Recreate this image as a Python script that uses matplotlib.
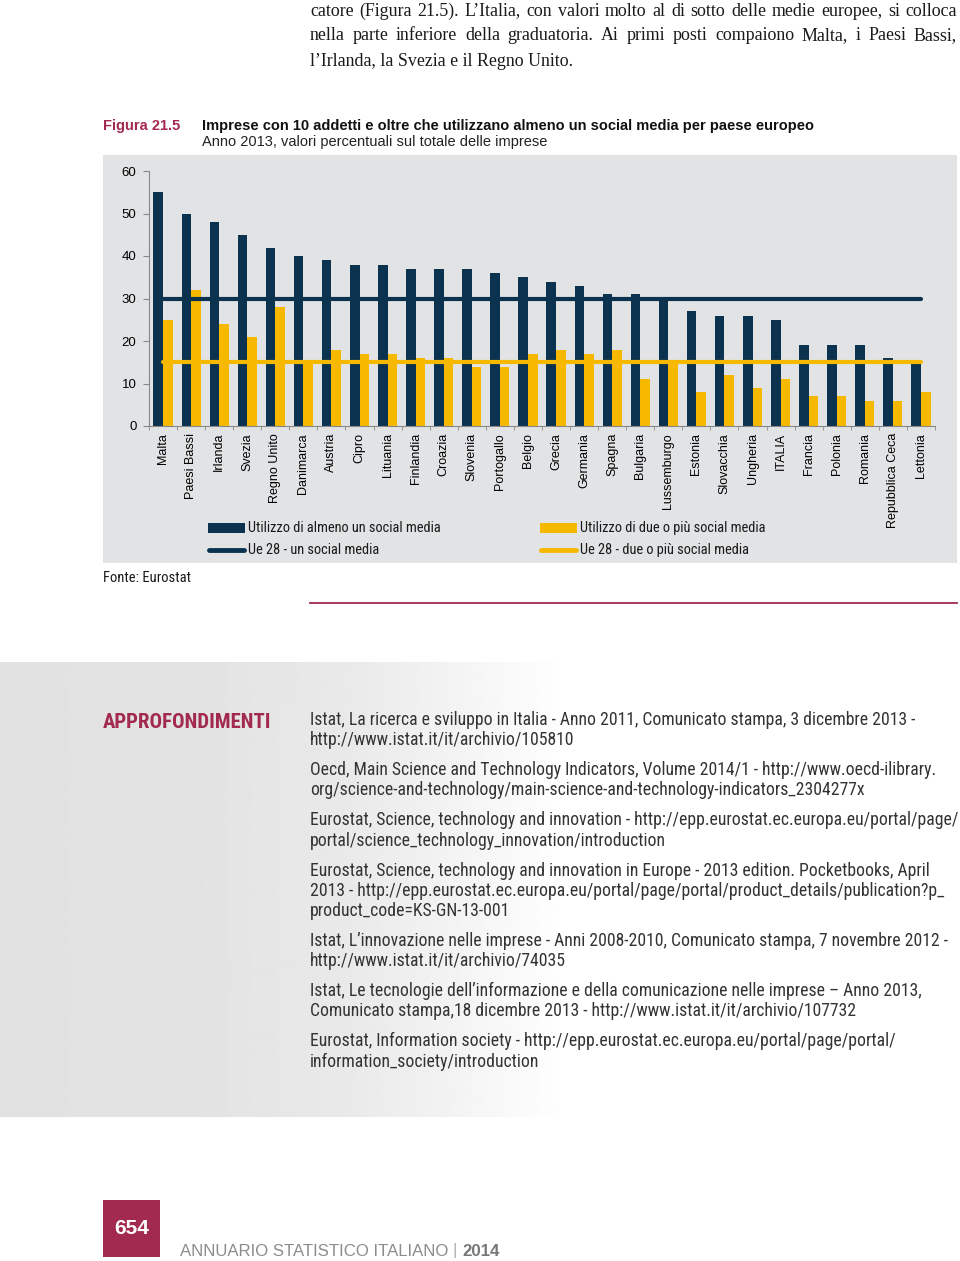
import numpy as np
import matplotlib
matplotlib.use("Agg")
import matplotlib.pyplot as plt
from matplotlib import font_manager
from matplotlib.patches import Rectangle
from matplotlib.lines import Line2D

W, H = 960, 1261

countries = ["Malta", "Paesi Bassi", "Irlanda", "Svezia", "Regno Unito", "Danimarca",
             "Austria", "Cipro", "Lituania", "Finlandia", "Croazia", "Slovenia",
             "Portogallo", "Belgio", "Grecia", "Germania", "Spagna", "Bulgaria",
             "Lussemburgo", "Estonia", "Slovacchia", "Ungheria", "ITALIA", "Francia",
             "Polonia", "Romania", "Repubblica Ceca", "Lettonia"]
almeno_uno = [55, 50, 48, 45, 42, 40, 39, 38, 38, 37, 37, 37, 36, 35,
              34, 33, 31, 31, 30, 27, 26, 26, 25, 19, 19, 19, 16, 15]
due_o_piu = [25, 32, 24, 21, 28, 15, 18, 17, 17, 16, 16, 14, 14, 17,
             18, 17, 18, 11, 15, 8, 12, 9, 11, 7, 7, 6, 6, 8]
ue28_uno = 30
ue28_due = 15
yticks = [0, 10, 20, 30, 40, 50, 60]

legend_labels = ["Utilizzo di almeno un social media", "Utilizzo di due o più social media",
                 "Ue 28 - un social media", "Ue 28 - due o più social media"]

intro_lines = [
    "catore (Figura 21.5). L’Italia, con valori molto al di sotto delle medie europee, si colloca",
    "nella parte inferiore della graduatoria. Ai primi posti compaiono Malta, i Paesi Bassi,",
    "l’Irlanda, la Svezia e il Regno Unito.",
]
references = [
    ["Istat, La ricerca e sviluppo in Italia - Anno 2011, Comunicato stampa, 3 dicembre 2013 -",
     "http://www.istat.it/it/archivio/105810"],
    ["Oecd, Main Science and Technology Indicators, Volume 2014/1 - http://www.oecd-ilibrary.",
     "org/science-and-technology/main-science-and-technology-indicators_2304277x"],
    ["Eurostat, Science, technology and innovation - http://epp.eurostat.ec.europa.eu/portal/page/",
     "portal/science_technology_innovation/introduction"],
    ["Eurostat, Science, technology and innovation in Europe - 2013 edition. Pocketbooks, April",
     "2013 - http://epp.eurostat.ec.europa.eu/portal/page/portal/product_details/publication?p_",
     "product_code=KS-GN-13-001"],
    ["Istat, L’innovazione nelle imprese - Anni 2008-2010, Comunicato stampa, 7 novembre 2012 -",
     "http://www.istat.it/it/archivio/74035"],
    ["Istat, Le tecnologie dell’informazione e della comunicazione nelle imprese – Anno 2013,",
     "Comunicato stampa,18 dicembre 2013 - http://www.istat.it/it/archivio/107732"],
    ["Eurostat, Information society - http://epp.eurostat.ec.europa.eu/portal/page/portal/",
     "information_society/introduction"],
]

NAVY = "#0b3350"
GOLD = "#f7b800"
CRIMSON = "#a22a4e"
PANEL = "#e2e3e5"

names = {f.name for f in font_manager.fontManager.ttflist}
NARROW = next((f for f in ["Liberation Sans Narrow", "Roboto Condensed", "PT Sans Narrow",
                           "Archivo Narrow", "Arial Narrow", "Barlow Semi Condensed"]
               if f in names), "DejaVu Sans")
NSTRETCH = "condensed"
SANS = "Liberation Sans"
SERIF = "Liberation Serif"


def fx(x):
    return x / W


def fy(y):
    return 1 - y / H


fig = plt.figure(figsize=(W / 100, H / 100), dpi=100)
renderer = fig.canvas.get_renderer()


def fit_size(text, target, **kw):
    # font size that gives the text the width it has on the page
    t = fig.text(0, 0, text, fontsize=10, **kw)
    w = t.get_window_extent(renderer).width
    t.remove()
    return 10 * target / w


def justify(line, x0, x1, y, **kw):
    words = line.split(" ")
    objs = [fig.text(0, fy(y), w, va="center", ha="left", **kw) for w in words]
    widths = [o.get_window_extent(renderer).width for o in objs]
    gap = (x1 - x0 - sum(widths)) / max(len(words) - 1, 1)
    x = x0
    for o, w in zip(objs, widths):
        o.set_x(fx(x))
        x += w + gap


NKW = dict(family=NARROW, fontstretch=NSTRETCH)

# intro paragraph (justified, last line ragged)
serif_size = min(fit_size(intro_lines[2], 268, family=SERIF),
                 fit_size(intro_lines[0], 630, family=SERIF))
for i, line in enumerate(intro_lines):
    y = 11 + 25 * i
    if i < len(intro_lines) - 1:
        justify(line, 310, 957, y, family=SERIF, fontsize=serif_size, color="#1a1a1a")
    else:
        fig.text(fx(310), fy(y), line, family=SERIF, fontsize=serif_size, color="#1a1a1a",
                 va="center")

# figure header
title = "Imprese con 10 addetti e oltre che utilizzano almeno un social media per paese europeo"
tsize = fit_size(title, 610, family=SANS, fontweight="bold")
fig.text(fx(103), fy(126), "Figura 21.5", family=SANS, fontsize=tsize, fontweight="bold",
         color=CRIMSON, va="center")
fig.text(fx(202), fy(126), title, family=SANS, fontsize=tsize, fontweight="bold",
         color="#111111", va="center")
fig.text(fx(202), fy(142), "Anno 2013, valori percentuali sul totale delle imprese",
         family=SANS, fontsize=tsize, color="#222222", va="center")

# grey chart panel
fig.add_artist(Rectangle((fx(103), fy(563)), fx(957 - 103), (563 - 155) / H,
                         transform=fig.transFigure, facecolor=PANEL, edgecolor="none", zorder=0))

ax = fig.add_axes([fx(149), fy(426), fx(935 - 149), (426 - 171) / H])
ax.patch.set_visible(False)
x = np.arange(len(countries))
bw = 0.34
ax.bar(x - bw / 2, almeno_uno, bw, color=NAVY, zorder=2)
ax.bar(x + bw / 2, due_o_piu, bw, color=GOLD, zorder=2)
ax.plot([x[0], x[-1]], [ue28_uno, ue28_uno], color=NAVY, lw=3, solid_capstyle="round", zorder=3)
ax.plot([x[0], x[-1]], [ue28_due, ue28_due], color=GOLD, lw=3, solid_capstyle="round", zorder=3)

ax.set_xlim(-0.5, len(countries) - 0.5)
ax.set_ylim(0, 60)
ax.set_yticks(yticks)
ax.set_yticklabels([str(t) for t in yticks], family=SANS, fontsize=9.5)
ax.set_xticks(x)
ax.set_xticklabels(countries, rotation=90, family=SANS, fontsize=9, va="top")
ax.set_xticks(np.arange(len(countries) + 1) - 0.5, minor=True)
ax.tick_params(axis="x", which="major", length=0, pad=5)
ax.tick_params(axis="x", which="minor", length=3, color="#888888", direction="out")
ax.tick_params(axis="y", length=4, color="#888888", pad=5)
for s in ["top", "right"]:
    ax.spines[s].set_visible(False)
for s in ["left", "bottom"]:
    ax.spines[s].set_color("#888888")
    ax.spines[s].set_linewidth(0.8)

# legend drawn by hand
lsize = fit_size(legend_labels[0], 192, **NKW)
leg_font = dict(fontsize=lsize, color="#1a1a1a", va="center", **NKW)
fig.add_artist(Rectangle((fx(208), fy(533)), fx(37), 10 / H, transform=fig.transFigure,
                         facecolor=NAVY, edgecolor="none"))
fig.add_artist(Rectangle((fx(540), fy(533)), fx(37), 10 / H, transform=fig.transFigure,
                         facecolor=GOLD, edgecolor="none"))
fig.add_artist(Line2D([fx(209), fx(244)], [fy(550), fy(550)], transform=fig.transFigure,
                      color=NAVY, lw=3.5, solid_capstyle="round"))
fig.add_artist(Line2D([fx(541), fx(576)], [fy(550), fy(550)], transform=fig.transFigure,
                      color=GOLD, lw=3.5, solid_capstyle="round"))
fig.text(fx(248), fy(528), legend_labels[0], **leg_font)
fig.text(fx(580), fy(528), legend_labels[1], **leg_font)
fig.text(fx(248), fy(550), legend_labels[2], **leg_font)
fig.text(fx(580), fy(550), legend_labels[3], **leg_font)

fig.text(fx(103), fy(578), "Fonte: Eurostat", fontsize=fit_size("Fonte: Eurostat", 87, **NKW),
         color="#1a1a1a", va="center", **NKW)

# red rule
fig.add_artist(Line2D([fx(310), fx(957)], [fy(603), fy(603)], transform=fig.transFigure,
                      color=CRIMSON, lw=1.3))

# gradient box
bg = fig.add_axes([0, fy(1117), 1, (1117 - 662) / H], zorder=-1)
grad = np.interp(np.arange(W), [0, 200, 350, 470, 570, W], [0.885, 0.89, 0.915, 0.96, 1.0, 1.0])
bg.imshow(grad[np.newaxis, :], cmap="gray", vmin=0, vmax=1, aspect="auto",
          extent=[0, W, 0, 1], interpolation="bilinear")
bg.axis("off")

fig.text(fx(103), fy(723), "APPROFONDIMENTI",
         fontsize=fit_size("APPROFONDIMENTI", 167, fontweight="bold", **NKW),
         fontweight="bold", color=CRIMSON, va="center", **NKW)

rsize = fit_size(references[2][0], 642, **NKW)
y = 720
for entry in references:
    for line in entry:
        fig.text(fx(310), fy(y), line, fontsize=rsize, color="#333333", va="center", **NKW)
        y += 20.2
    y += 9.8

# page footer
fig.add_artist(Rectangle((fx(103), fy(1257)), fx(57), 57 / H, transform=fig.transFigure,
                         facecolor=CRIMSON, edgecolor="none"))
fig.text(fx(131.5), fy(1229), "654", family=SANS, fontsize=15, fontweight="bold",
         color="white", ha="center", va="center")
fsize = fit_size("ANNUARIO STATISTICO ITALIANO | 2014", 320, family=SANS)
t1 = fig.text(fx(180), fy(1251), "ANNUARIO STATISTICO ITALIANO ", family=SANS, fontsize=fsize,
              color="#8c8c8c", va="center")
w1 = t1.get_window_extent(renderer).width
t2 = fig.text(fx(180 + w1), fy(1251), "| ", family=SANS, fontsize=fsize, color="#b0b0b0",
              va="center")
w2 = t2.get_window_extent(renderer).width
fig.text(fx(180 + w1 + w2), fy(1251), "2014", family=SANS, fontsize=fsize, fontweight="bold",
         color="#777777", va="center")

fig.savefig("out.png", dpi=100)
